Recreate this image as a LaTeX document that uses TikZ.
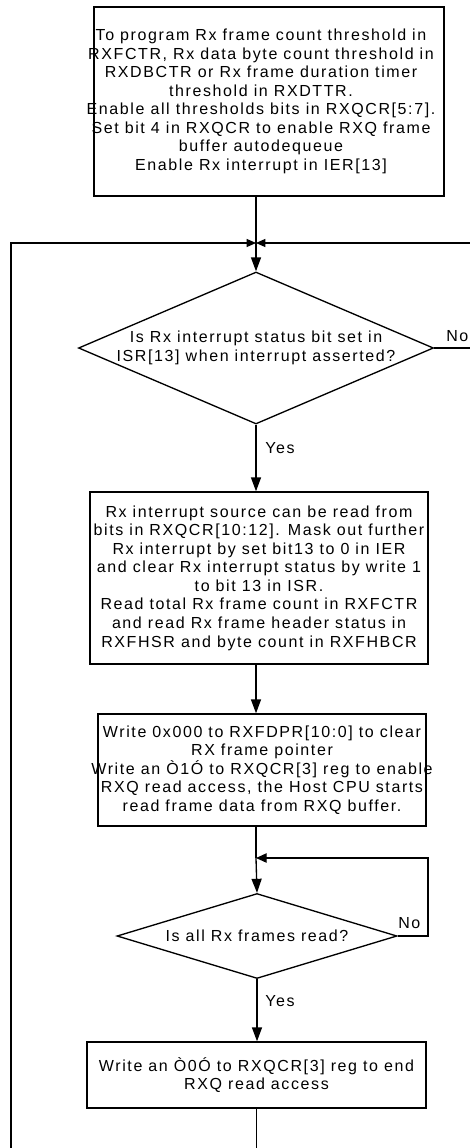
\documentclass[tikz,border=0pt]{standalone}
\usepackage{fontspec}
\setmainfont{Liberation Sans}
\newfontfamily\flowfont[LetterSpace=10]{Liberation Sans}
\usepackage{tikz}
\usetikzlibrary{shapes.geometric,arrows.meta}

\begin{document}
\begin{tikzpicture}[x=0.75pt, y=-0.75pt, line width=1pt,
    >={Triangle[length=10.5pt,width=7.5pt]},
    every label/.style={align=center, font=\flowfont\fontsize{12}{13.9}\selectfont, inner sep=0pt},
    box/.style={draw, rectangle, inner sep=0pt},
    decision/.style={draw, diamond, inner sep=0pt},
    tag/.style={font=\flowfont\fontsize{12}{14}\selectfont, inner sep=2pt}]

    \useasboundingbox (0,0) rectangle (469,1148);

    % steps
    \node[box, minimum width=262.5pt, minimum height=141.75pt,
        label={[xshift=-6pt]center:To program Rx frame count threshold in\\RXFCTR, Rx data byte count threshold in\\RXDBCTR or Rx frame duration timer\\threshold in RXDTTR.\\Enable all thresholds bits in RXQCR[5:7].\\Set bit 4 in RXQCR to enable RXQ frame\\buffer autodequeue\\Enable Rx interrupt in IER[13]}]
        (init) at (269,101.5) {};
    \node[decision, minimum width=266.25pt, minimum height=114pt,
        label={center:Is Rx interrupt status bit set in\\ISR[13] when interrupt asserted?}]
        (irq) at (256,348) {};
    \node[box, minimum width=253.5pt, minimum height=129pt,
        label={center:Rx interrupt source can be read from\\bits in RXQCR[10:12]. Mask out further\\Rx interrupt by set bit13 to 0 in IER\\and clear Rx interrupt status by write 1\\to bit 13 in ISR.\\Read total Rx frame count in RXFCTR\\and read Rx frame header status in\\RXFHSR and byte count in RXFHBCR}]
        (source) at (259,578) {};
    \node[box, minimum width=246pt, minimum height=84pt,
        label={center:Write 0x000 to RXFDPR[10:0] to clear\\RX frame pointer\\Write an Ò1Ó to RXQCR[3] reg to enable\\RXQ read access, the Host CPU starts\\read frame data from RXQ buffer.}]
        (readq) at (262,770) {};
    \node[decision, minimum width=210pt, minimum height=63.75pt,
        label={center:Is all Rx frames read?}]
        (alldone) at (257,936) {};
    \node[box, minimum width=254.25pt, minimum height=49.5pt,
        label={center:Write an Ò0Ó to RXQCR[3] reg to end\\RXQ read access}]
        (endq) at (256.5,1075) {};

    \coordinate (join1) at (256,243);
    \coordinate (join2) at (256,858);

    % connectors
    \draw (init.south -| join1) -- (join1);
    \draw[->] (join1) -- (irq.north);
    \draw[->] (irq.south) -- (source.north -| irq.south);
    \draw[->] (source.south -| join2) -- (readq.north -| join2);
    \draw (readq.south -| join2) -- (join2);
    \draw[->] (join2) -- (alldone.north);
    \draw[->] (alldone.south) -- (endq.north -| alldone.south);

    % loops
    \draw[-{Triangle[length=7pt,width=6pt]}] (irq.east) -- (490,348) |- (join1);
    \draw[-{Triangle[length=7pt,width=6pt]}] (endq.south) -- ++(0,60) -| (11,243) -- (join1);
    \draw[-{Triangle[length=8pt,width=7pt]}] (alldone.east) -- (428,936) |- (join2);

    % labels
    \node[tag, anchor=south west] (no1) at (443,345) {No};
    \node[tag, anchor=south west] (no2) at (395,932) {No};
    \node[tag, anchor=west] (yes1) at (262,448) {Yes};
    \node[tag, anchor=west] (yes2) at (262,1001) {Yes};
\end{tikzpicture}
\end{document}
